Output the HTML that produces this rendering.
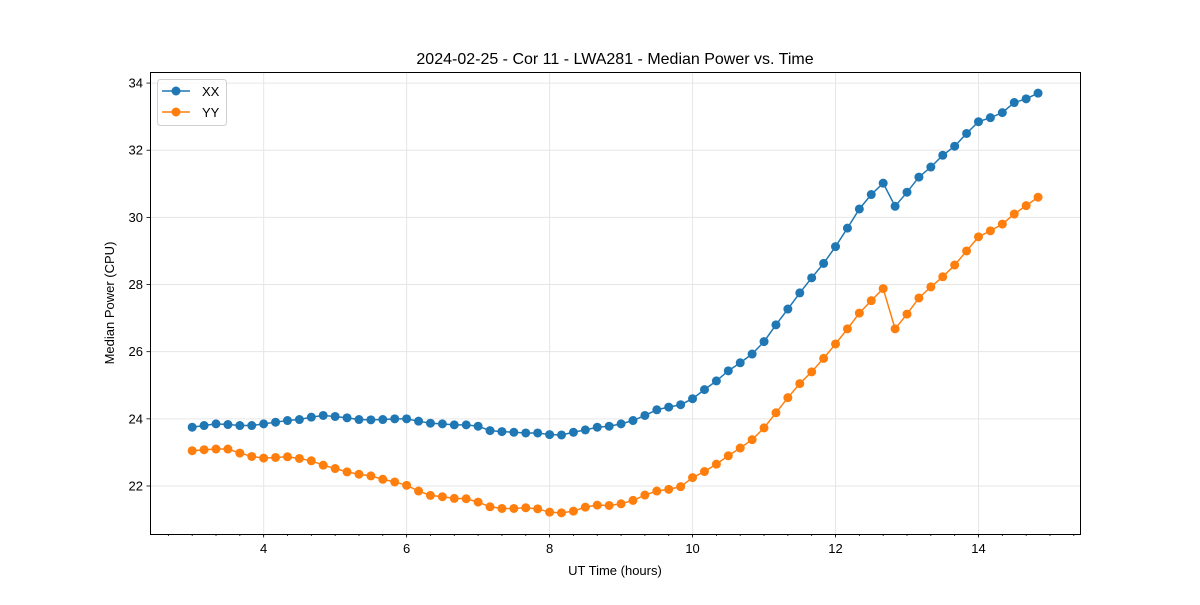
<!DOCTYPE html>
<html><head><meta charset="utf-8"><style>
body{margin:0;background:#fff;}
svg text{font-family:"Liberation Sans","DejaVu Sans",sans-serif;fill:#000;}
</style></head><body>
<svg id="chart" width="1200" height="600" xmlns="http://www.w3.org/2000/svg"></svg>
<script>
const startHour = 3.0;
const stepHours = 1/6;
const xxValues = [23.75,23.8,23.85,23.83,23.8,23.8,23.85,
23.9,23.95,23.98,24.05,24.1,24.07,
24.03,23.98,23.97,23.98,24.0,24.0,
23.93,23.87,23.85,23.82,23.82,23.78,
23.65,23.62,23.6,23.58,23.58,23.53,
23.52,23.6,23.67,23.75,23.78,23.85,
23.95,24.1,24.27,24.35,24.42,24.6,
24.87,25.13,25.43,25.67,25.93,26.3,
26.8,27.27,27.75,28.2,28.63,29.13,
29.68,30.25,30.68,31.02,30.33,30.75,
31.2,31.5,31.85,32.12,32.5,32.85,
32.97,33.12,33.42,33.53,33.7];
const yyValues = [23.05,23.08,23.1,23.1,22.98,22.88,22.83,
22.85,22.87,22.82,22.75,22.62,22.52,
22.42,22.35,22.3,22.2,22.12,22.02,
21.85,21.72,21.68,21.63,21.62,21.52,
21.38,21.33,21.33,21.35,21.32,21.22,
21.2,21.25,21.37,21.43,21.42,21.47,
21.57,21.73,21.85,21.9,21.98,22.25,
22.43,22.65,22.9,23.13,23.38,23.73,
24.18,24.63,25.05,25.4,25.8,26.23,
26.68,27.15,27.52,27.88,26.68,27.12,
27.6,27.93,28.23,28.58,29.0,29.42,
29.6,29.8,30.1,30.35,30.6];
const xTicks = [4,6,8,10,12,14];
const yTicks = [22,24,26,28,30,32,34];

const L=150,R=1080,T=72,B=534;
const xMin=2.41,xMax=15.42,yMin=20.57,yMax=34.33;
const sx=v=>L+(v-xMin)/(xMax-xMin)*(R-L);
const sy=v=>B-(v-yMin)/(yMax-yMin)*(B-T);
const svg=document.getElementById('chart');
const NS='http://www.w3.org/2000/svg';
function mk(tag,attrs,parent){const e=document.createElementNS(NS,tag);for(const k in attrs)e.setAttribute(k,attrs[k]);(parent||svg).appendChild(e);return e;}

xTicks.forEach(t=>{const g=mk('line',{x1:sx(t),x2:sx(t),y1:T,y2:B,stroke:'#e6e6e6','stroke-width':1});

});
yTicks.forEach(t=>{const g=mk('line',{x1:L,x2:R,y1:sy(t),y2:sy(t),stroke:'#e6e6e6','stroke-width':1});

});

function series(vals,color,name){
  const g=mk('g',{});
  
  
  const pts=vals.map((v,i)=>sx(startHour+i*stepHours).toFixed(2)+','+sy(v).toFixed(2)).join(' ');
  const pl=mk('polyline',{points:pts,fill:'none',stroke:color,'stroke-width':1.5},g);
  
  
  vals.forEach((v,i)=>{const c=mk('circle',{cx:sx(startHour+i*stepHours),cy:sy(v),r:4.5,fill:color},g);
    
    });
}
series(xxValues,'#1f77b4','xx');
series(yyValues,'#ff7f0e','yy');

const fr=mk('rect',{x:L+0.5,y:T+0.5,width:R-L,height:B-T,fill:'none',stroke:'#000','stroke-width':1});



for(let m=Math.ceil(xMin*3)/3;m<=xMax;m+=1/3){
  const mt=mk('line',{x1:sx(m),x2:sx(m),y1:B,y2:B+2,stroke:'#000','stroke-width':0.8});
  
  
}
xTicks.forEach(t=>{
  const tk=mk('line',{x1:sx(t),x2:sx(t),y1:B,y2:B+3.5,stroke:'#000','stroke-width':0.8});
  
  
  const tx=mk('text',{x:sx(t),y:B+19,'text-anchor':'middle','font-size':13});
  tx.textContent=t;
  
  
});
yTicks.forEach(t=>{
  const tk=mk('line',{x1:L-3.5,x2:L,y1:sy(t),y2:sy(t),stroke:'#000','stroke-width':0.8});
  
  
  const tx=mk('text',{x:L-7,y:sy(t)+4.5,'text-anchor':'end','font-size':13});
  tx.textContent=t;
  
  
});
</script>
<svg style="position:absolute;left:0;top:0" width="1200" height="600" xmlns="http://www.w3.org/2000/svg">
<text x="615" y="64" text-anchor="middle" font-size="16">2024-02-25 - Cor 11 - LWA281 - Median Power vs. Time</text>
<text x="615" y="575" text-anchor="middle" font-size="13">UT Time (hours)</text>
<text x="114" y="303" text-anchor="middle" font-size="13" transform="rotate(-90 114 303)">Median Power (CPU)</text>
<g>
<rect x="157.5" y="79.5" width="69" height="46" rx="3" fill="#fff" fill-opacity="0.8" stroke="#d0d0d0"/>
<g>
<line x1="162" x2="190" y1="91" y2="91" stroke="#1f77b4" stroke-width="1.5"/><circle cx="176" cy="91" r="4.5" fill="#1f77b4"/>
<text x="202" y="96" font-size="13">XX</text></g>
<g>
<line x1="162" x2="190" y1="112" y2="112" stroke="#ff7f0e" stroke-width="1.5"/><circle cx="176" cy="112" r="4.5" fill="#ff7f0e"/>
<text x="202" y="117" font-size="13">YY</text></g>
</g>
</svg>
</body></html>
